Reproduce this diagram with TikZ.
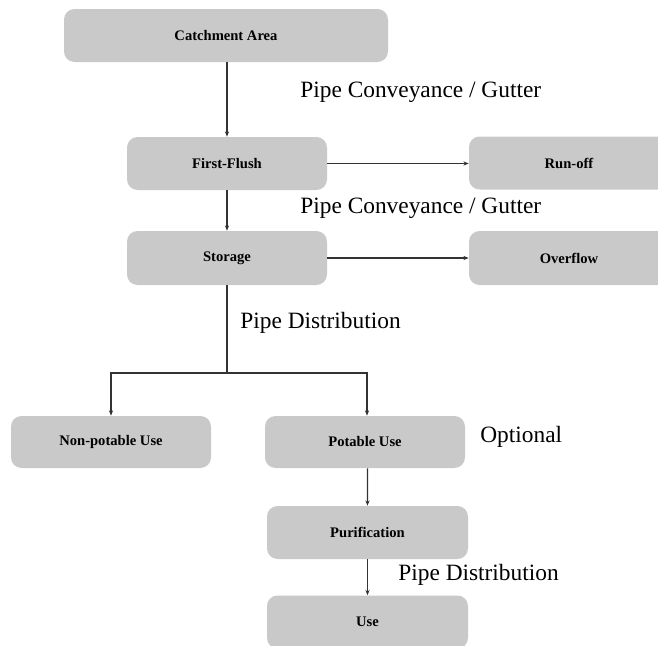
\documentclass[tikz,border=0pt]{standalone}
\usepackage{fontspec}
\setmainfont{Liberation Serif}
\usepackage{tikz}
\usetikzlibrary{arrows.meta, positioning, calc}
\definecolor{BoxGray}{HTML}{C9C9C9}
\definecolor{LineGray}{HTML}{333333}
\tikzset{
  % Box styles
  stagebox/.style={rectangle, rounded corners=6pt, draw=none, fill=BoxGray, minimum width=4cm, minimum height=1.06cm, font=\fontsize{8.3}{10}\selectfont\bfseries, align=center},
  % Arrow styles
  arrow/.style={-{Stealth[length=3pt, width=2.4pt]}, LineGray, line width=0.6pt},
  plainline/.style={LineGray, line width=0.6pt},
  % Label styles
  pipelabel/.style={anchor=west, inner sep=0pt, font=\fontsize{13.3}{16}\selectfont}
}
\begin{document}
\begin{tikzpicture}
  \useasboundingbox (0,0) rectangle (13.16,-12.9);

  % Main stages
  \node[stagebox, minimum width=6.48cm] (catch) at (4.52,-0.71) {Catchment Area};
  \node[stagebox] (flush) at (4.54,-3.27) {First-Flush};
  \node[stagebox] (runoff) at (11.38,-3.26) {Run-off};
  \node[stagebox, minimum height=1.08cm] (storage) at (4.54,-5.16) {Storage};
  \node[stagebox, minimum height=1.08cm] (overflow) at (11.38,-5.16) {Overflow};

  % Uses
  \node[stagebox, minimum height=1.04cm] (nonpot) at (2.22,-8.84) {Non-potable Use};
  \node[stagebox, minimum height=1.04cm] (pot) at (7.30,-8.84) {Potable Use};
  \node[stagebox, minimum width=4.02cm] (purif) at (7.35,-10.65) {Purification};
  \node[stagebox, minimum width=4.02cm] (use) at (7.35,-12.44) {Use};

  % Labels
  \node[pipelabel] (conv1) at (6.0,-1.84) {Pipe Conveyance / Gutter};
  \node[pipelabel] (conv2) at (6.0,-4.16) {Pipe Conveyance / Gutter};
  \node[pipelabel] (dist1) at (4.8,-6.46) {Pipe Distribution};
  \node[pipelabel] (opt) at (9.6,-8.74) {Optional};
  \node[pipelabel] (dist2) at (7.96,-11.5) {Pipe Distribution};

  % Connections
  \coordinate (split) at (4.54,-7.46);
  \draw[arrow] (catch.south -| flush) -- (flush.north);
  \draw[arrow] (flush.east) -- (runoff.west |- flush.east);
  \draw[arrow] (flush.south) -- (storage.north);
  \draw[arrow] (storage.east) -- (overflow.west |- storage.east);
  \draw[plainline] (storage.south) -- (split);
  \draw[arrow] (split) -| (nonpot.north);
  \draw[arrow] (split) -| ($(pot.north)+(0.04,0)$);
  \draw[arrow] ($(pot.south)+(0.05,0)$) -- (purif.north);
  \draw[arrow] (purif.south) -- (use.north);
\end{tikzpicture}
\end{document}
